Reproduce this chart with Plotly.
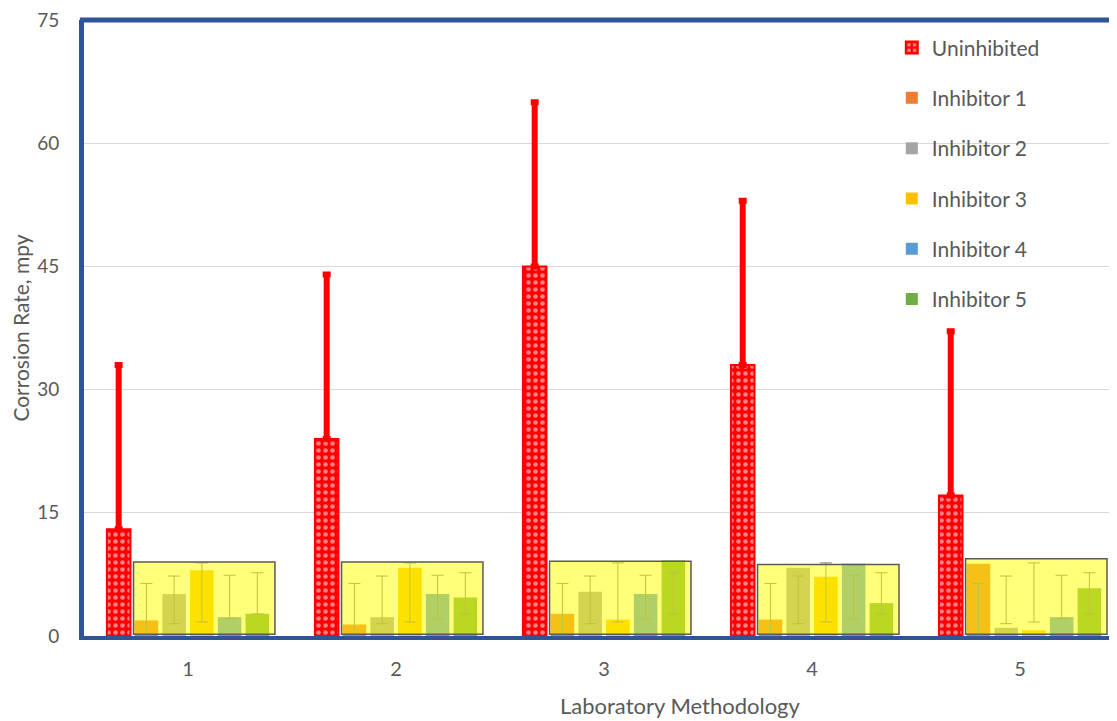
import plotly.graph_objects as go

# ---- data ----
methods = [1, 2, 3, 4, 5]
uninhibited = [13.0, 24.0, 45.0, 33.0, 17.1]
uninhibited_err = [20.0, 20.0, 20.0, 20.0, 20.0]

inhibitor_names = ["Inhibitor 1", "Inhibitor 2", "Inhibitor 3", "Inhibitor 4", "Inhibitor 5"]
inh1 = [1.9, 1.4, 2.7, 2.0, 8.8]
inh2 = [5.1, 2.3, 5.4, 8.3, 1.0]
inh3 = [8.0, 8.3, 2.0, 7.2, 0.7]
inh4 = [2.3, 5.1, 5.1, 8.8, 2.3]
inh5 = [2.7, 4.7, 9.2, 4.0, 5.8]
inhibitor_values = [inh1, inh2, inh3, inh4, inh5]

# error bar range (low, high) per inhibitor
err_low = [0.2, 1.5, 1.7, 2.1, 2.7]
err_high = [6.4, 7.3, 8.9, 7.4, 7.7]

# height of the highlight box per methodology
highlight_top = [9.0, 9.0, 9.1, 8.7, 9.4]

y_ticks = [0, 15, 30, 45, 60, 75]

# ---- styles ----
inhibitor_colors = ["#ED7D31", "#A5A5A5", "#FFC000", "#5B9BD5", "#70AD47"]
FONT = "Lato, Calibri, Arial, sans-serif"
TXT = "#595959"
FRAME = "#2F5597"

fig = go.Figure()

fig.add_trace(go.Bar(
    x=methods, y=uninhibited, name="Uninhibited", legendgroup="u",
    marker=dict(color="#FF0000", line=dict(color="#FF0000", width=2),
                pattern=dict(shape=".", fgcolor="#FFFFFF", bgcolor="#FF0000",
                             size=7, solidity=0.35, fillmode="overlay")),
    error_y=dict(type="data", symmetric=False, array=uninhibited_err,
                 arrayminus=[0] * len(methods), color="#FF0000", thickness=6, width=4),
))

for i, (nm, vals) in enumerate(zip(inhibitor_names, inhibitor_values)):
    plus = [err_high[i] - v for v in vals]
    minus = [v - err_low[i] for v in vals]
    fig.add_trace(go.Bar(
        x=methods, y=vals, name=nm, legendgroup=f"g{i}",
        marker=dict(color=inhibitor_colors[i], line=dict(width=0)),
        error_y=dict(type="data", symmetric=False, array=plus, arrayminus=minus,
                     color="#7F7F7F", thickness=1, width=6),
    ))

shapes = []
for m, top in zip(methods, highlight_top):
    shapes.append(dict(type="rect", xref="x", yref="y",
                       x0=m - 0.262, x1=m + 0.418, y0=0.2, y1=top,
                       fillcolor="rgba(255,255,0,0.52)",
                       line=dict(color="#5A5A5A", width=1.5), layer="above"))
# top frame line
shapes.append(dict(type="line", xref="paper", yref="paper", x0=-0.004, x1=1, y0=1, y1=1,
                   line=dict(color=FRAME, width=5), layer="above"))

# page body has an 8px margin: figure is sized/margined to compensate
fig.update_layout(
    width=1109, height=713,
    margin=dict(l=76, r=0, t=12, b=85, autoexpand=False),
    paper_bgcolor="white", plot_bgcolor="white",
    barmode="group", bargap=0.2, bargroupgap=0.15,
    font=dict(family=FONT, size=21, color=TXT),
    shapes=shapes,
    showlegend=True,
    legend=dict(x=0.782, xanchor="left", y=0.988, yanchor="top",
                font=dict(family=FONT, size=21, color=TXT),
                bgcolor="rgba(0,0,0,0)", tracegroupgap=20, traceorder="grouped"),
    annotations=[dict(text="Laboratory Methodology", xref="paper", yref="paper",
                      x=0.577, y=-0.113, xanchor="center", yanchor="middle",
                      showarrow=False, font=dict(family=FONT, size=22, color=TXT))],
    xaxis=dict(range=[0.5, 5.466], tickvals=methods, ticktext=[str(m) for m in methods],
               showgrid=False, zeroline=False, showline=True, linecolor=FRAME, linewidth=4,
               ticks="", ticklabelstandoff=12, automargin=False,
               tickfont=dict(family=FONT, size=20, color=TXT)),
    yaxis=dict(range=[0, 75], tickvals=y_ticks, showgrid=True, gridcolor="#D9D9D9",
               gridwidth=1, zeroline=False, showline=True, linecolor=FRAME, linewidth=5,
               ticks="", ticklabelstandoff=16, automargin=False, ticklabeloverflow="allow",
               title=dict(text="Corrosion Rate, mpy", standoff=8,
                          font=dict(family=FONT, size=21, color=TXT)),
               tickfont=dict(family=FONT, size=19, color=TXT)),
)

fig.write_html("out.html")
